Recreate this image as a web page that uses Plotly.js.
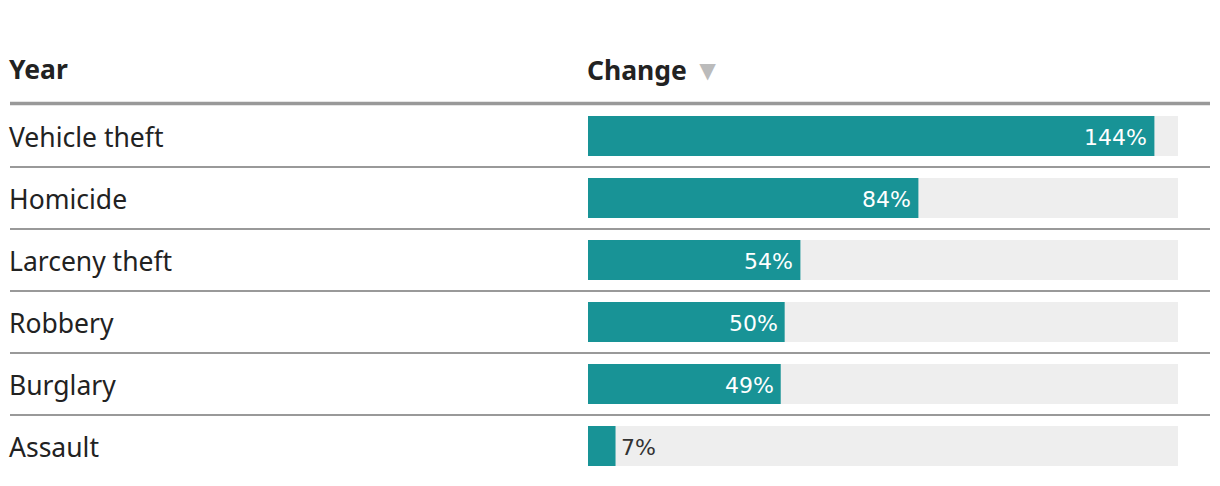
<!DOCTYPE html>
<html>
<head>
<meta charset="utf-8">
<script src="https://cdn.plot.ly/plotly-3.0.1.min.js"></script>
<style>html,body{margin:0;padding:0;background:#fff;}#chart{width:1220px;height:486px;}</style>
</head>
<body>
<div id="chart"></div>
<script>
const categories = ["Vehicle theft", "Homicide", "Larceny theft", "Robbery", "Burglary", "Assault"];
const changes = [144, 84, 54, 50, 49, 7];
const valueLabels = ["144%", "84%", "54%", "50%", "49%", "7%"];
const maxValue = 150;
const headerLeft = "Year";
const headerRight = "Change";

const idx = categories.map((c, i) => i);
const teal = "#189396";

const bgTrace = {
  type: "bar", orientation: "h",
  x: categories.map(() => maxValue), y: idx,
  marker: {color: "#eeeeee"}, width: 40/62,
  hoverinfo: "skip", showlegend: false
};
const valTrace = {
  type: "bar", orientation: "h",
  x: changes, y: idx,
  marker: {color: teal}, width: 40/62,
  hoverinfo: "skip", showlegend: false
};

const annotations = categories.map((c, i) => ({
  text: c, x: 7/1220, xref: "paper", xanchor: "left",
  y: i, yref: "y", yanchor: "middle", yshift: -1, showarrow: false,
  font: {family: "Noto Sans, sans-serif", size: 26.5, color: "#222222"}
}));
changes.forEach((v, i) => {
  const inside = v > 20;
  annotations.push({
    text: valueLabels[i], x: v, xref: "x", y: i, yref: "y",
    xanchor: inside ? "right" : "left", yanchor: "middle",
    xshift: inside ? -5 : 3, yshift: -1, showarrow: false,
    font: {family: "DejaVu Sans, sans-serif", size: 22, color: inside ? "#ffffff" : "#333333"}
  });
});
annotations.push({
  text: "<b>" + headerLeft + "</b>", x: 7/1220, xref: "paper", xanchor: "left",
  y: 1 - 69/486, yref: "paper", yanchor: "middle", showarrow: false,
  font: {family: "Noto Sans, sans-serif", size: 26.5, color: "#222222"}
});
annotations.push({
  text: "<b>" + headerRight + "</b> <span style='color:#bbbbbb;font-size:28px'>▼</span>",
  x: 585/1220, xref: "paper", xanchor: "left",
  y: 1 - 69/486, yref: "paper", yanchor: "middle", showarrow: false,
  font: {family: "Noto Sans, sans-serif", size: 26.5, color: "#222222"}
});

const shapes = [{
  type: "line", xref: "paper", yref: "y", x0: 10/1220, x1: 1210/1220,
  y0: -0.525, y1: -0.525, line: {color: "#999999", width: 3.5}
}];
for (let i = 0; i < categories.length - 1; i++) {
  shapes.push({
    type: "line", xref: "paper", yref: "y", x0: 10/1220, x1: 1210/1220,
    y0: i + 0.5, y1: i + 0.5, line: {color: "#999999", width: 2}
  });
}

const layout = {
  width: 1220, height: 486,
  margin: {l: 0, r: 0, t: 0, b: 0},
  paper_bgcolor: "#ffffff", plot_bgcolor: "#ffffff",
  barmode: "overlay",
  xaxis: {domain: [588/1220, 1178/1220], range: [0, maxValue], visible: false, fixedrange: true},
  yaxis: {range: [(486-136)/62, -136/62], visible: false, fixedrange: true},
  annotations: annotations,
  shapes: shapes,
  showlegend: false
};

Plotly.newPlot("chart", [bgTrace, valTrace], layout, {displayModeBar: false, staticPlot: true});
</script>
</body>
</html>
